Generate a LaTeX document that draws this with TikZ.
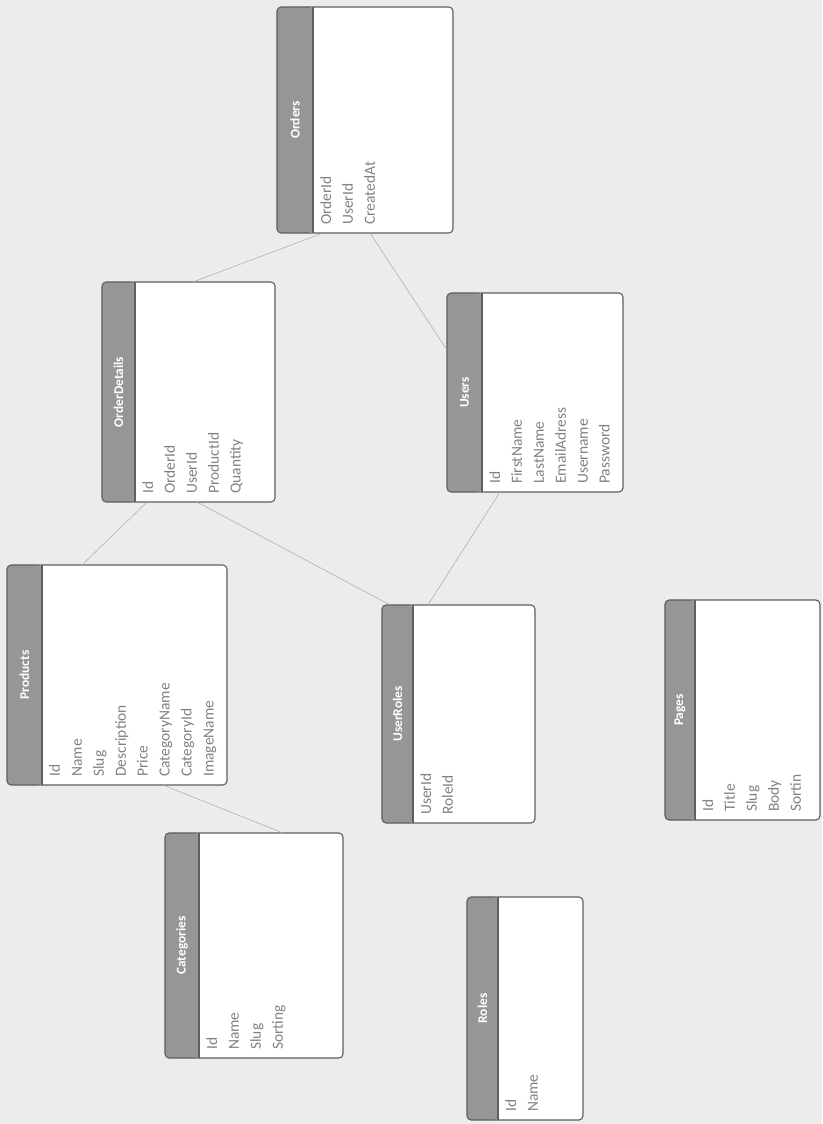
\documentclass[tikz,border=0pt]{standalone}
\usepackage{fontspec}
\setmainfont{Carlito}
\usepackage{tikz}
\usetikzlibrary{calc}
\definecolor{paper}{RGB}{236,236,236}
\definecolor{hdr}{RGB}{150,150,150}
\definecolor{edge}{RGB}{95,95,95}
\definecolor{fieldtxt}{RGB}{130,130,130}
\definecolor{link}{RGB}{175,175,175}

\begin{document}
\begin{tikzpicture}[
  x=0.025cm, y=-0.025cm,
  tbl/.style={draw=edge, thick, rounded corners=3pt, fill=white, inner sep=0pt, outer sep=0pt,
              path picture={
                \fill[hdr] (path picture bounding box.south west) rectangle ([xshift=#1]path picture bounding box.north east -| path picture bounding box.north west);
                \draw[edge, thick] ([xshift=#1]path picture bounding box.south west) -- ([xshift=#1]path picture bounding box.north west);
              }},
  tbl/.default=0.85cm,
  title/.style={rotate=90, font=\bfseries\fontsize{9.5}{11}\selectfont, text=white},
  fields/.style={rotate=90, anchor=north west, align=left, inner sep=0pt,
                 font=\fontsize{11}{15.6}\selectfont, text=fieldtxt},
  rel/.style={draw=link, thin},
]
\fill[paper] (0,0) rectangle (822,1124);
\useasboundingbox (0,0) rectangle (822,1124);

% Orders
\node[tbl=0.9cm, minimum width=4.4cm, minimum height=5.65cm] (orders) at (365,120) {};
\node[title] (ordersT) at ($(orders.west)+(18,0)$) {Orders};
\node[fields] (ordersF) at ($(orders.south west)+(43,-8)$) {OrderId\\UserId\\CreatedAt};

% OrderDetails
\node[tbl=0.825cm, minimum width=4.325cm, minimum height=5.5cm] (details) at (188.5,392) {};
\node[title] (detailsT) at ($(details.west)+(16.5,0)$) {OrderDetails};
\node[fields] (detailsF) at ($(details.south west)+(40,-8)$) {Id\\OrderId\\UserId\\ProductId\\Quantity};

% Users
\node[tbl=0.875cm, minimum width=4.4cm, minimum height=4.975cm] (users) at (535,392.5) {};
\node[title] (usersT) at ($(users.west)+(17.5,0)$) {Users};
\node[fields] (usersF) at ($(users.south west)+(42,-8)$) {Id\\FirstName\\LastName\\EmailAdress\\Username\\Password};

% Products
\node[tbl=0.875cm, minimum width=5.5cm, minimum height=5.5cm] (products) at (117,675) {};
\node[title] (productsT) at ($(products.west)+(17.5,0)$) {Products};
\node[fields] (productsF) at ($(products.south west)+(42,-8)$) {Id\\Name\\Slug\\Description\\Price\\CategoryName\\CategoryId\\ImageName};

% UserRoles
\node[tbl=0.775cm, minimum width=3.825cm, minimum height=5.45cm] (userroles) at (458.5,714) {};
\node[title] (userrolesT) at ($(userroles.west)+(15.5,0)$) {UserRoles};
\node[fields] (userrolesF) at ($(userroles.south west)+(38,-8)$) {UserId\\RoleId};

% Categories
\node[tbl=0.85cm, minimum width=4.45cm, minimum height=5.625cm] (categories) at (254,945.5) {};
\node[title] (categoriesT) at ($(categories.west)+(17,0)$) {Categories};
\node[fields] (categoriesF) at ($(categories.south west)+(41,-8)$) {Id\\Name\\Slug\\Sorting};

% Roles
\node[tbl=0.775cm, minimum width=2.9cm, minimum height=5.575cm] (roles) at (525,1008.5) {};
\node[title] (rolesT) at ($(roles.west)+(15.5,0)$) {Roles};
\node[fields] (rolesF) at ($(roles.south west)+(38,-8)$) {Id\\Name};

% Pages
\node[tbl=0.75cm, minimum width=3.875cm, minimum height=5.5cm] (pages) at (742.5,710) {};
\node[title] (pagesT) at ($(pages.west)+(15,0)$) {Pages};
\node[fields] (pagesF) at ($(pages.south west)+(37,-8)$) {Id\\Title\\Slug\\Body\\Sortin};

% Relations
\draw[rel] ($(orders.south west)+(46,0)$) -- ($(details.north west)+(91,0)$);
\draw[rel] ($(orders.south west)+(93,0)$) -- ($(users.north west)+(0,57)$);
\draw[rel] ($(details.south west)+(45,0)$) -- ($(products.north west)+(75,0)$);
\draw[rel] ($(details.south west)+(95,0)$) -- ($(userroles.north west)+(8,0)$);
\draw[rel] ($(users.south west)+(53,0)$) -- ($(userroles.north west)+(46,0)$);
\draw[rel] ($(products.south west)+(156,0)$) -- ($(categories.north west)+(118,0)$);
\end{tikzpicture}
\end{document}
